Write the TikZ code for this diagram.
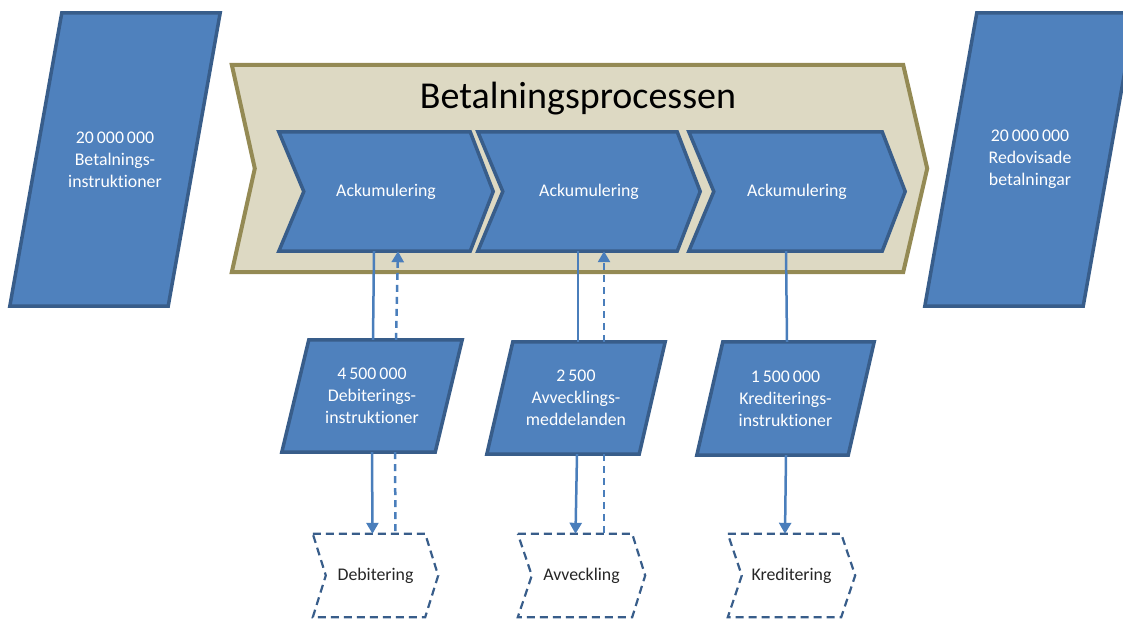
\documentclass[tikz,border=0pt]{standalone}
\usepackage{fontspec}
\setmainfont{Carlito}[Ligatures=NoCommon]
\usetikzlibrary{arrows.meta,backgrounds}
\definecolor{boxblue}{HTML}{4F81BD}
\definecolor{boxedge}{HTML}{385D8A}
\definecolor{flowblue}{HTML}{4A7EBB}
\definecolor{procfill}{HTML}{DDD9C3}
\definecolor{procedge}{HTML}{948A54}
\begin{document}
\begin{tikzpicture}[x=1pt,y=-1pt,
  txt/.style={inner sep=0pt, align=center, font=\fontsize{17.8}{22}\selectfont},
  bluetxt/.style={txt, text=white},
  darktxt/.style={txt, text=black!85},
  blueshape/.style={fill=boxblue, draw=boxedge, line width=3.5pt},
  procshape/.style={fill=procfill, draw=procedge, line width=4pt},
  dashshape/.style={fill=white, draw=boxedge, line width=2.2pt, dash pattern=on 8pt off 5pt},
  flow/.style={draw=flowblue, line width=2.5pt},
  backflow/.style={flow, dash pattern=on 7pt off 5pt},
  arrowed/.style={-{Triangle[width=12pt,length=11pt]}}]
\useasboundingbox (0,0) rectangle (1123,619);
% the process and its title
\node [minimum width=695, minimum height=207, inner sep=0pt] (proc) at (579.5,168.5) {};
\node [anchor=base, font=\fontsize{38}{46}\selectfont] (title) at (578,108) {Betalningsprocessen};
% accumulation steps
\node [bluetxt, minimum width=214, minimum height=119] (ack1) at (386,191.5) {Ackumulering};
\node [bluetxt, minimum width=222, minimum height=119] (ack2) at (589,191.5) {Ackumulering};
\node [bluetxt, minimum width=216, minimum height=119] (ack3) at (797,191.5) {Ackumulering};
% input and output
\node [bluetxt, minimum width=210, minimum height=293] (inL) at (115,159.5) {20\,000\,000\\Betalnings-\\instruktioner};
\node [bluetxt, minimum width=210, minimum height=293] (outR) at (1030,159.5) {20\,000\,000\\Redovisade\\betalningar};
% messages
\node [bluetxt, minimum width=180, minimum height=112] (deb) at (372,396) {4\,500\,000\\Debiterings-\\instruktioner};
\node [bluetxt, minimum width=178, minimum height=112] (avv) at (576,398) {2\,500\\Avvecklings-\\meddelanden};
\node [bluetxt, minimum width=177, minimum height=113] (kred) at (785.5,398.5) {1\,500\,000\\Krediterings-\\instruktioner};
% external steps
\node [darktxt, minimum width=125, minimum height=83] (debB) at (375.5,575.5) {Debitering};
\node [darktxt, minimum width=127, minimum height=83] (avvB) at (581.5,575.5) {Avveckling};
\node [darktxt, minimum width=127, minimum height=83] (kredB) at (791.5,575.5) {Kreditering};
\begin{scope}[on background layer]
\path [procshape] (proc.north west) -- ([xshift=-24pt]proc.north east) -- (proc.east) -- ([xshift=-24pt]proc.south east) -- (proc.south west) -- ([xshift=23pt]proc.west) -- cycle;
\path [blueshape] (ack1.north west) -- ([xshift=-23pt]ack1.north east) -- (ack1.east) -- ([xshift=-23pt]ack1.south east) -- (ack1.south west) -- ([xshift=25pt]ack1.west) -- cycle;
\path [blueshape] (ack2.north west) -- ([xshift=-23pt]ack2.north east) -- (ack2.east) -- ([xshift=-23pt]ack2.south east) -- (ack2.south west) -- ([xshift=25pt]ack2.west) -- cycle;
\path [blueshape] (ack3.north west) -- ([xshift=-23pt]ack3.north east) -- (ack3.east) -- ([xshift=-23pt]ack3.south east) -- (ack3.south west) -- ([xshift=25pt]ack3.west) -- cycle;
\path [blueshape] ([xshift=52pt]inL.north west) -- (inL.north east) -- ([xshift=-52pt]inL.south east) -- (inL.south west) -- cycle;
\path [blueshape] ([xshift=52pt]outR.north west) -- (outR.north east) -- ([xshift=-52pt]outR.south east) -- (outR.south west) -- cycle;
\path [blueshape] ([xshift=27pt]deb.north west) -- (deb.north east) -- ([xshift=-27pt]deb.south east) -- (deb.south west) -- cycle;
\path [blueshape] ([xshift=26pt]avv.north west) -- (avv.north east) -- ([xshift=-26pt]avv.south east) -- (avv.south west) -- cycle;
\path [blueshape] ([xshift=26pt]kred.north west) -- (kred.north east) -- ([xshift=-26pt]kred.south east) -- (kred.south west) -- cycle;
\path [dashshape] (debB.north west) -- ([xshift=-13pt]debB.north east) -- (debB.east) -- ([xshift=-13pt]debB.south east) -- (debB.south west) -- ([xshift=13pt]debB.west) -- cycle;
\path [dashshape] (avvB.north west) -- ([xshift=-13pt]avvB.north east) -- (avvB.east) -- ([xshift=-13pt]avvB.south east) -- (avvB.south west) -- ([xshift=14pt]avvB.west) -- cycle;
\path [dashshape] (kredB.north west) -- ([xshift=-14pt]kredB.north east) -- (kredB.east) -- ([xshift=-14pt]kredB.south east) -- (kredB.south west) -- ([xshift=14pt]kredB.west) -- cycle;
\end{scope}
% connectors
\draw [flow] ([xshift=-12pt]ack1.south) -- ([xshift=1pt]deb.north);
\draw [backflow, arrowed] ([xshift=24pt]deb.north) -- ([xshift=12pt]ack1.south);
\draw [flow, arrowed] (deb.south) -- ([xshift=-3pt]debB.north);
\draw [backflow] ([xshift=23pt]deb.south) -- ([xshift=20pt]debB.north);
\draw [flow] ([xshift=-11pt]ack2.south) -- ([xshift=2pt]avv.north);
\draw [backflow, arrowed] ([xshift=28pt]avv.north) -- ([xshift=15pt]ack2.south);
\draw [flow, arrowed] ([xshift=1pt]avv.south) -- ([xshift=-6pt]avvB.north);
\draw [backflow] ([xshift=28pt]avv.south) -- ([xshift=22.5pt]avvB.north);
\draw [flow] ([xshift=-11pt]ack3.south) -- ([xshift=1.5pt]kred.north);
\draw [flow, arrowed] ([xshift=0.5pt]kred.south) -- ([xshift=-6.5pt]kredB.north);
\end{tikzpicture}
\end{document}
